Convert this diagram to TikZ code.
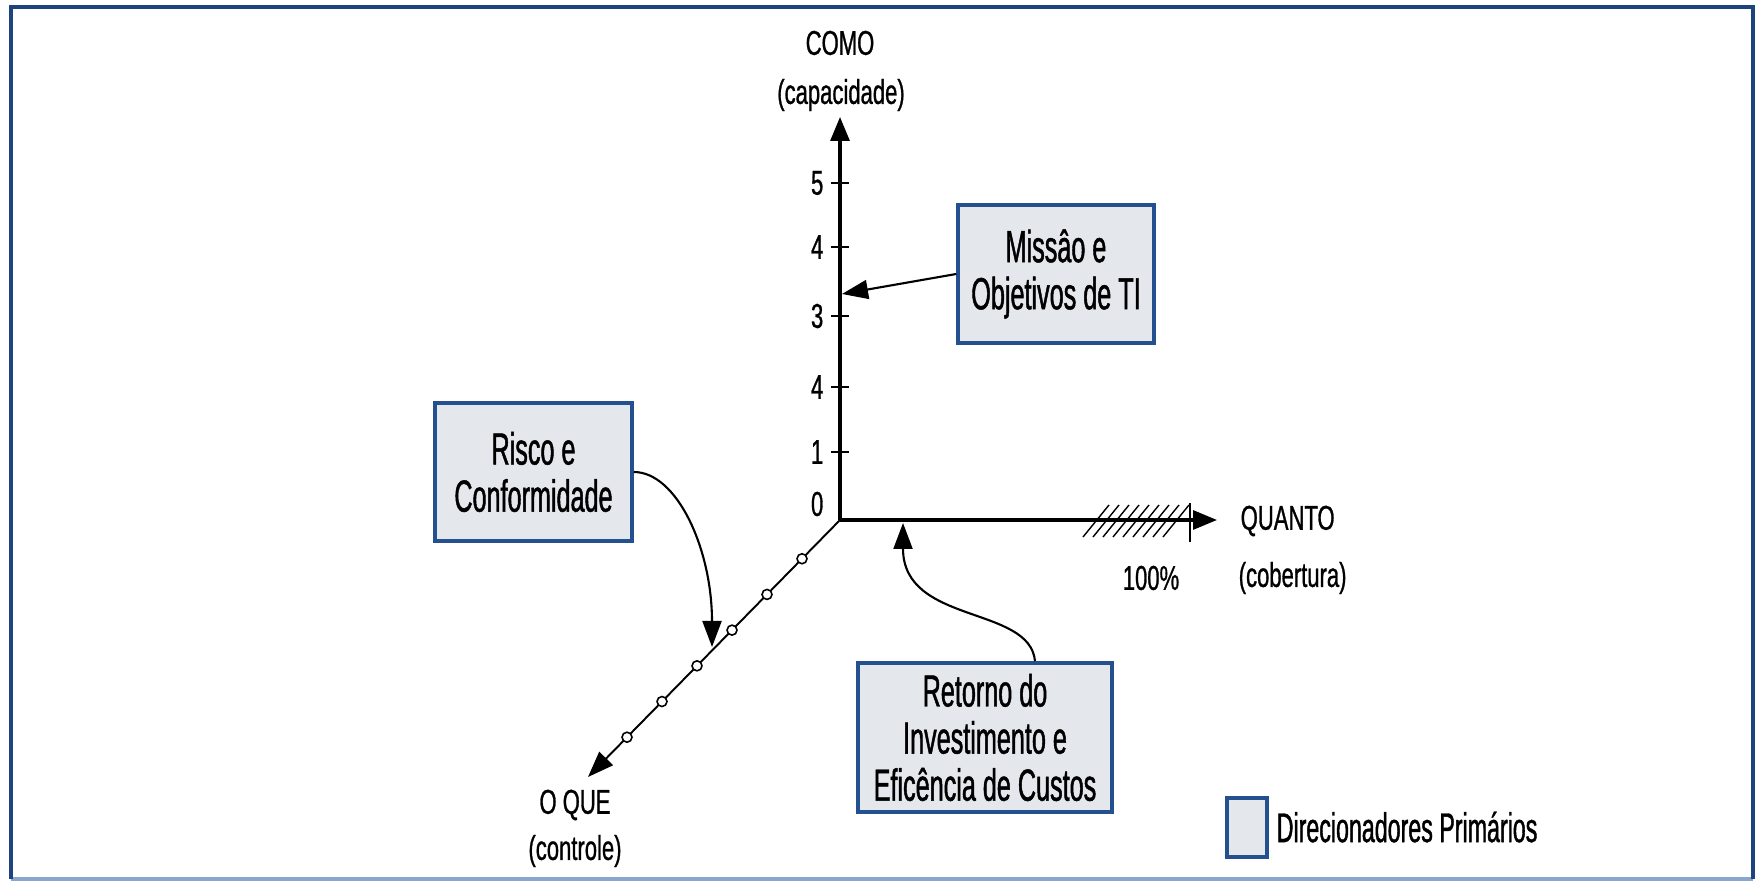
\documentclass[tikz,border=0pt]{standalone}
\usepackage{fontspec}
\newfontfamily\axisfont{Liberation Sans}[FakeStretch=0.64,FakeBold=0.8]
\newfontfamily\boxfont{Liberation Sans}[FakeStretch=0.56,FakeBold=1.0]
\usetikzlibrary{arrows.meta,calc}
\definecolor{frameblue}{HTML}{1E4480}
\definecolor{lineblue}{HTML}{8AA6CF}
\definecolor{boxblue}{HTML}{25508F}
\definecolor{boxfill}{HTML}{E4E8EC}
\begin{document}
\begin{tikzpicture}[x=0.1mm,y=-0.1mm,
  driver/.style={draw=boxblue, line width=1pt, fill=boxfill, inner sep=0pt,
    align=center, font=\boxfont\fontsize{12.8}{13.4}\selectfont},
  axislabel/.style={font=\axisfont\fontsize{9.8}{10}\selectfont, inner sep=0pt, align=center},
  ticklabel/.style={axislabel, anchor=east},
  mainaxis/.style={line width=0.9pt, -{Triangle[length=2.4mm,width=1.9mm]}},
  pointer/.style={line width=0.6pt, -{Triangle[length=2.6mm,width=1.9mm]}},
  tickmark/.style={line width=0.45pt},
  hatchline/.style={line width=0.4pt}]
\useasboundingbox (0,0) rectangle (1760,881);

% frame
\draw[lineblue, line width=0.35mm] (11,879) -- (1753,879);
\draw[frameblue, line width=0.45mm] (11,879) -- (11,7) -- (1753,7) -- (1753,879);

% axis end points
\coordinate (O) at (840,520);
\coordinate (Ytip) at (840,117);
\coordinate (Xtip) at (1217,520);
\coordinate (Ztip) at (588,777);

% hatched band near 100%
\foreach \k in {0,...,8}
  \draw[hatchline] (1083+10*\k,537) -- (1109+10*\k,505);
\draw[hatchline] (1190,503) -- (1190,542);

% axes
\draw[mainaxis] (O) -- (Ytip);
\draw[mainaxis] (O) -- (Xtip);
\draw[line width=0.55pt, -{Triangle[length=2.6mm,width=1.9mm]}] (O) -- (Ztip);
\foreach \k in {0,...,5}
  \draw[fill=white, line width=0.45pt] ($(O)!{(38+35*\k)/252}!(Ztip)$) circle[radius=0.5mm];

% ticks on the vertical axis
\foreach \yy in {183,247,316,387,452}
  \draw[tickmark] (831,\yy) -- (849,\yy);
\node[ticklabel] (t5) at (824,183) {5};
\node[ticklabel] (t4a) at (824,247) {4};
\node[ticklabel] (t3) at (824,316) {3};
\node[ticklabel] (t4b) at (824,387) {4};
\node[ticklabel] (t1) at (824,452) {1};
\node[ticklabel] (t0) at (824,504) {0};

% axis titles
\node[axislabel] (como) at (840,43) {COMO};
\node[axislabel] (capac) at (841,95) {(capacidade)};
\node[axislabel, anchor=west] (quanto) at (1240,521) {QUANTO};
\node[axislabel, anchor=west] (cobert) at (1238,578) {(cobertura)};
\node[axislabel] (cem) at (1151,578) {100\%};
\node[axislabel] (oque) at (575,805) {O QUE};
\node[axislabel] (contr) at (575,851) {(controle)};

% primary drivers
\node[driver, minimum width=19.6mm, minimum height=13.8mm] (missao) at (1056,274)
  {Missâo e\\Objetivos de TI};
\node[driver, minimum width=19.7mm, minimum height=13.8mm] (risco) at (533.5,472)
  {Risco e\\Conformidade};
\node[driver, minimum width=25.4mm, minimum height=14.9mm] (retorno) at (985,737.5)
  {Retorno do\\Investimento e\\Eficência de Custos};

% pointers to the axes
\coordinate (mtip) at (842,294);
\coordinate (rtip) at (712,647);
\coordinate (ctip) at (903,523);
\draw[pointer] (missao.west) -- (mtip);
\draw[pointer] (risco.east) .. controls (677,472) and (712,549) .. (rtip);
\draw[pointer] ($(retorno.north)+(50,0)$) .. controls (1030,605) and (903,625) .. (ctip);

% legend
\node[driver, minimum width=4mm, minimum height=5.9mm] (legbox) at (1247,827.5) {};
\node[font=\boxfont\fontsize{11.8}{13}\selectfont, anchor=west, inner sep=0pt] (legtext)
  at (1276,827) {Direcionadores Primários};
\end{tikzpicture}
\end{document}
